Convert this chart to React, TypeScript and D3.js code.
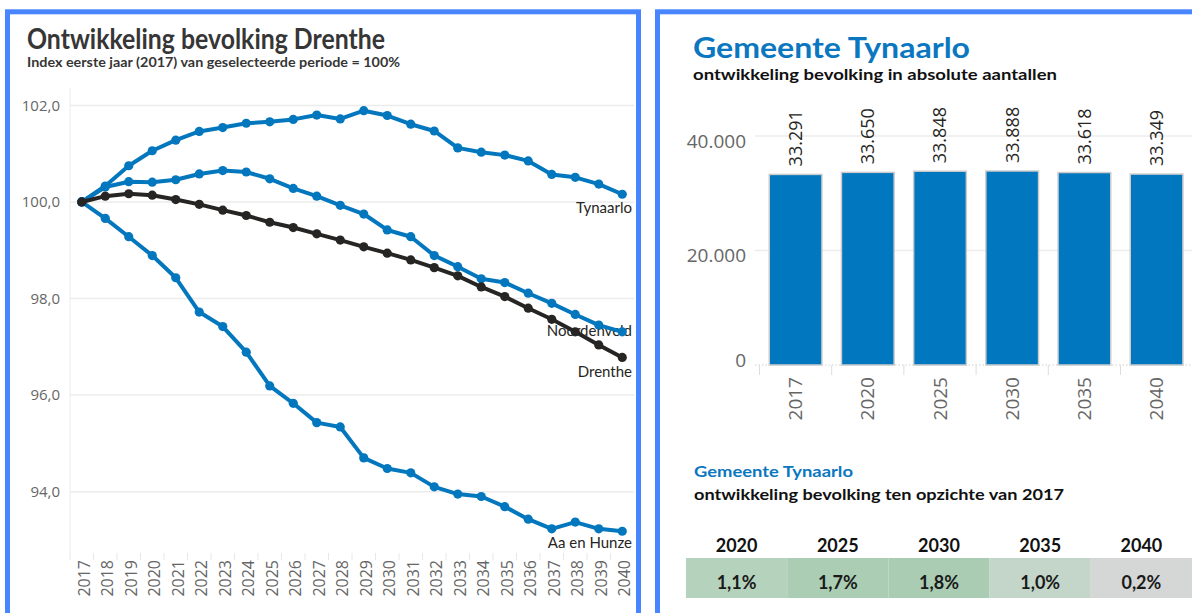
import React from "react";
import * as d3 from "d3";

// ---------- data ----------
const years: number[] = [2017, 2018, 2019, 2020, 2021, 2022, 2023, 2024, 2025, 2026, 2027, 2028, 2029, 2030, 2031, 2032, 2033, 2034, 2035, 2036, 2037, 2038, 2039, 2040];
const tynaarlo: number[] = [100, 100.33, 100.75, 101.06, 101.28, 101.46, 101.54, 101.63, 101.66, 101.71, 101.8, 101.72, 101.89, 101.79, 101.61, 101.47, 101.12, 101.03, 100.97, 100.85, 100.57, 100.51, 100.37, 100.16];
const noordenveld: number[] = [100, 100.31, 100.42, 100.41, 100.46, 100.58, 100.65, 100.62, 100.48, 100.28, 100.12, 99.93, 99.75, 99.42, 99.28, 98.89, 98.66, 98.41, 98.33, 98.11, 97.9, 97.67, 97.45, 97.31];
const drenthe: number[] = [100, 100.12, 100.17, 100.14, 100.05, 99.95, 99.83, 99.72, 99.58, 99.47, 99.34, 99.21, 99.07, 98.94, 98.8, 98.64, 98.47, 98.24, 98.04, 97.8, 97.57, 97.31, 97.04, 96.78];
const aaEnHunze: number[] = [100, 99.66, 99.28, 98.89, 98.43, 97.72, 97.42, 96.89, 96.19, 95.83, 95.43, 95.34, 94.7, 94.48, 94.39, 94.1, 93.95, 93.9, 93.69, 93.43, 93.23, 93.37, 93.23, 93.18];
const seriesNames: string[] = ["Tynaarlo", "Noordenveld", "Aa en Hunze", "Drenthe"];
const indexTicks: number[] = [94, 96, 98, 100, 102];

const barYears: string[] = ["2017", "2020", "2025", "2030", "2035", "2040"];
const barValues: number[] = [33291, 33650, 33848, 33888, 33618, 33349];
const barTicks: number[] = [0, 20000, 40000];

const tableYears: string[] = ["2020", "2025", "2030", "2035", "2040"];
const tablePct: number[] = [1.1, 1.7, 1.8, 1.0, 0.2];

// ---------- styles ----------
const BLUE = "#0377be";
const DARK = "#262523";
const GRID = "#ececec";
const AXIS_TXT = "#666666";
const FRAME = "#4886ff";
const TITLE_FONT = "Lato, 'Open Sans', sans-serif";
const AXIS_FONT = "'Open Sans', 'Noto Sans', sans-serif";
const cellColors = ["#b5d2bd", "#aacdb4", "#a9ccb3", "#c4d6ca", "#d5d7d6"];

const nl = (v: number, d: number) => v.toFixed(d).replace(".", ",");
const thousands = (v: number) => d3.format(",")(v).replace(/,/g, ".");

export default function App() {
  // ----- left chart scales -----
  const x = d3.scaleBand<number>().domain(years).range([70, 634]).padding(0);
  const xc = (yr: number) => (x(yr) as number) + x.bandwidth() / 2;
  const y = d3.scaleLinear().domain([92.73, 102.36]).range([553, 88]);
  const seriesData: Record<string, number[]> = {
    Tynaarlo: tynaarlo,
    Noordenveld: noordenveld,
    "Aa en Hunze": aaEnHunze,
    Drenthe: drenthe,
  };
  const line = d3
    .line<number>()
    .x((_, i) => xc(years[i]))
    .y((v) => y(v));
  const labelDy: Record<string, number> = { Tynaarlo: 14, Noordenveld: -1, Drenthe: 14, "Aa en Hunze": 11 };

  // ----- right chart scales -----
  const bx = d3.scaleBand<string>().domain(barYears).range([759.5, 1192.7]).paddingInner(0.27).paddingOuter(0.135);
  const by = d3.scaleLinear().domain([0, 40000]).range([365, 136]);

  // ----- table -----
  const colX = d3.scaleBand<string>().domain(tableYears).range([686, 1192]);

  return (
    <div style={{ position: "absolute", left: 0, top: 0 }}>
      <svg width={1192} height={613} style={{ display: "block", background: "#fff" }}>
        {/* frames */}
        <rect x={7.5} y={11.8} width={631} height={620} fill="none" stroke={FRAME} strokeWidth={5} />
        <rect x={657.5} y={11.8} width={560} height={620} fill="none" stroke={FRAME} strokeWidth={5} />

        {/* ===== left panel ===== */}
        <text x={27} y={49} fontFamily={TITLE_FONT} fontWeight={700} fontSize={28} fill="#363636" textLength={358} lengthAdjust="spacingAndGlyphs">
          Ontwikkeling bevolking Drenthe
        </text>
        <text x={27} y={67} fontFamily={TITLE_FONT} fontWeight={700} fontSize={14} fill="#363636" textLength={373} lengthAdjust="spacingAndGlyphs">
          Index eerste jaar (2017) van geselecteerde periode = 100%
        </text>

        {/* grid */}
        {indexTicks.map((t) => (
          <g key={t}>
            <line x1={70} x2={634} y1={y(t)} y2={y(t)} stroke={GRID} strokeWidth={1.5} />
            <text x={60} y={y(t)} dy="0.35em" textAnchor="end" fontFamily={AXIS_FONT} fontSize={15} fill={AXIS_TXT}>
              {nl(t, 1)}
            </text>
          </g>
        ))}
        <line x1={70} x2={70} y1={88} y2={553} stroke={GRID} strokeWidth={1} />

        {/* x axis */}
        {years.map((yr) => (
          <g key={yr}>
            <line x1={x(yr) as number} x2={x(yr) as number} y1={553} y2={560} stroke="#e8e8e8" />
            <text
              transform={`translate(${xc(yr) + 2.5},${560}) rotate(-90)`}
              textAnchor="end"
              dy="0.35em"
              fontFamily={AXIS_FONT}
              fontSize={16}
              fill={AXIS_TXT}
            >
              {yr}
            </text>
          </g>
        ))}

        {/* series labels */}
        {seriesNames.map((name) => {
          const vals = seriesData[name];
          return (
            <text
              key={name}
              x={632}
              y={y(vals[vals.length - 1]) + labelDy[name]}
              dy="0.35em"
              textAnchor="end"
              fontFamily={TITLE_FONT}
              fontSize={15}
              fill={DARK}
            >
              {name}
            </text>
          );
        })}

        {/* lines */}
        {seriesNames.map((name) => {
          const vals = seriesData[name];
          const col = name === "Drenthe" ? DARK : BLUE;
          return (
            <g key={name}>
              <path d={line(vals) as string} fill="none" stroke={col} strokeWidth={4} strokeLinejoin="round" />
              {vals.map((v, i) => (
                <circle key={i} cx={xc(years[i])} cy={y(v)} r={4.6} fill={col} />
              ))}
            </g>
          );
        })}

        {/* ===== right panel ===== */}
        <text x={693} y={58} fontFamily={TITLE_FONT} fontWeight={700} fontSize={29} fill="#0a77c0" textLength={277} lengthAdjust="spacingAndGlyphs">
          Gemeente Tynaarlo
        </text>
        <text x={693} y={80} fontFamily={TITLE_FONT} fontWeight={700} fontSize={16} fill="#111" textLength={364} lengthAdjust="spacingAndGlyphs">
          ontwikkeling bevolking in absolute aantallen
        </text>

        {barTicks.map((t) => (
          <g key={t}>
            {t > 0 ? (
              <line x1={755} x2={1192} y1={by(t)} y2={by(t)} stroke={GRID} strokeWidth={1.5} />
            ) : (
              <line x1={755} x2={1192} y1={by(t)} y2={by(t)} stroke="#cfcfcf" strokeWidth={1} strokeDasharray="1.5,2" />
            )}
            <text
              x={746}
              y={by(t) + (t === 0 ? -5 : 5)}
              dy="0.35em"
              textAnchor="end"
              fontFamily={AXIS_FONT}
              fontSize={19}
              fill={AXIS_TXT}
            >
              {thousands(t)}
            </text>
          </g>
        ))}

        {barYears.map((yr, i) => {
          const bxv = bx(yr) as number;
          const cx = bxv + bx.bandwidth() / 2;
          const step = bx.step();
          const left = bxv - (step - bx.bandwidth()) / 2;
          return (
            <g key={yr}>
              <line x1={left} x2={left} y1={by(0)} y2={by(0) + 10} stroke="#dddddd" />
              <rect
                x={bxv}
                y={by(barValues[i])}
                width={bx.bandwidth()}
                height={by(0) - by(barValues[i])}
                fill="#0077be"
                stroke="#cccccc"
                strokeWidth={1.5}
              />
              <text
                transform={`translate(${cx},${by(barValues[i]) - 8}) rotate(-90)`}
                dy="0.35em"
                textAnchor="start"
                fontFamily={AXIS_FONT}
                fontSize={18}
                fill={DARK}
              >
                {thousands(barValues[i])}
              </text>
              <text
                transform={`translate(${cx},${377}) rotate(-90)`}
                dy="0.35em"
                textAnchor="end"
                fontFamily={AXIS_FONT}
                fontSize={19}
                fill={AXIS_TXT}
              >
                {yr}
              </text>
            </g>
          );
        })}

        {/* table */}
        <text x={694} y={477} fontFamily={TITLE_FONT} fontWeight={700} fontSize={16} fill="#0a77c0" textLength={159} lengthAdjust="spacingAndGlyphs">
          Gemeente Tynaarlo
        </text>
        <text x={694} y={500} fontFamily={TITLE_FONT} fontWeight={700} fontSize={16} fill="#111" textLength={370} lengthAdjust="spacingAndGlyphs">
          ontwikkeling bevolking ten opzichte van 2017
        </text>
        {tableYears.map((yr, i) => {
          const cx0 = colX(yr) as number;
          const cw = colX.bandwidth();
          return (
            <g key={yr}>
              <text x={cx0 + cw / 2} y={552} textAnchor="middle" fontFamily={TITLE_FONT} fontWeight={700} fontSize={18} fill="#111">
                {yr}
              </text>
              <rect x={cx0} y={558} width={cw} height={40} fill={cellColors[i]} />
              <text x={cx0 + cw / 2} y={589} textAnchor="middle" fontFamily={TITLE_FONT} fontWeight={700} fontSize={18} fill="#1a1a1a">
                {nl(tablePct[i], 1) + "%"}
              </text>
            </g>
          );
        })}
      </svg>
    </div>
  );
}
